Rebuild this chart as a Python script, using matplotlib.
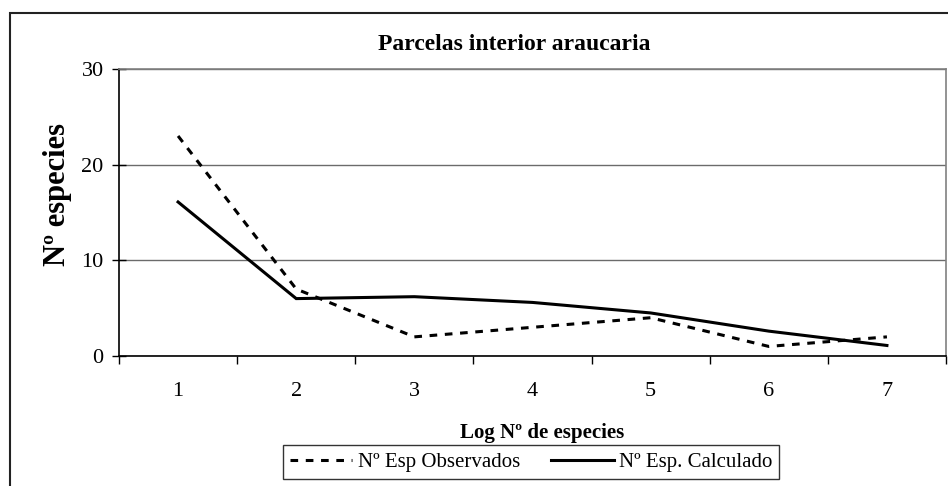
import matplotlib.pyplot as plt
from matplotlib.patches import Rectangle

plt.rcParams['font.family'] = ['Liberation Serif', 'DejaVu Serif']

# data
cats = [1, 2, 3, 4, 5, 6, 7]
observados = [23, 7, 2, 3, 4, 1, 2]
calculado = [16.1, 6.0, 6.2, 5.6, 4.5, 2.6, 1.1]
yticks = [0, 10, 20, 30]

fig = plt.figure(figsize=(9.48, 4.86), dpi=100)
ax = fig.add_axes([119 / 948, 1 - 356 / 486, (946 - 119) / 948, (356 - 69) / 486])

l1, = ax.plot(cats, observados, color='black', lw=2.2, dashes=(2.5, 2.5),
              label='N\u00ba Esp Observados')
l2, = ax.plot(cats, calculado, color='black', lw=2.2, solid_joinstyle='miter',
              label='N\u00ba Esp. Calculado')

ax.set_xlim(0.5, 7.5)
ax.set_ylim(0, 30)
ax.set_yticks(yticks)
ax.set_yticklabels([str(v) for v in yticks])
ax.yaxis.grid(True, color='#6b6b6b', lw=1)
ax.set_axisbelow(True)

# category boundaries get the tick marks, centres get the labels
ax.set_xticks([c - 0.5 for c in cats] + [cats[-1] + 0.5])
ax.set_xticklabels([])
ax.set_xticks(cats, minor=True)
ax.set_xticklabels([str(c) for c in cats], minor=True)
ax.tick_params(axis='x', which='major', direction='out', length=6, width=1, color='black')
ax.tick_params(axis='x', which='minor', length=0, pad=19, labelsize=16)
ax.tick_params(axis='y', direction='inout', length=10, width=1, pad=6, labelsize=16)

for s in ['left', 'bottom']:
    ax.spines[s].set_color('black')
    ax.spines[s].set_linewidth(1.2)
for s in ['top', 'right']:
    ax.spines[s].set_color('#808080')
    ax.spines[s].set_linewidth(1.2)

fig.text(514 / 948, 1 - 45 / 486, 'Parcelas interior araucaria', ha='center', va='center',
         fontsize=17, fontweight='bold')
fig.text(542 / 948, 1 - 433 / 486, 'Log N\u00ba de especies', ha='center', va='center',
         fontsize=15, fontweight='bold')
fig.text(58 / 948, 1 - 194 / 486, 'N\u00ba especies', ha='center', va='center',
         rotation=90, fontsize=22, fontweight='bold')

leg = fig.legend(handles=[l1, l2], loc='center', bbox_to_anchor=(531 / 948, 1 - 462 / 486),
                 ncol=2, fontsize=15, frameon=True, fancybox=False, handlelength=3.0,
                 handletextpad=0.25, columnspacing=1.5, borderpad=0.35, borderaxespad=0)
leg.get_frame().set_edgecolor('black')
leg.get_frame().set_linewidth(1)

# outer chart frame
fig.patches.append(Rectangle((10 / 948, -0.1), 1.0, 1 - 12.7 / 486 + 0.1,
                             transform=fig.transFigure, fill=False,
                             edgecolor='#222222', lw=1.5))

fig.savefig('out.png', dpi=100)
